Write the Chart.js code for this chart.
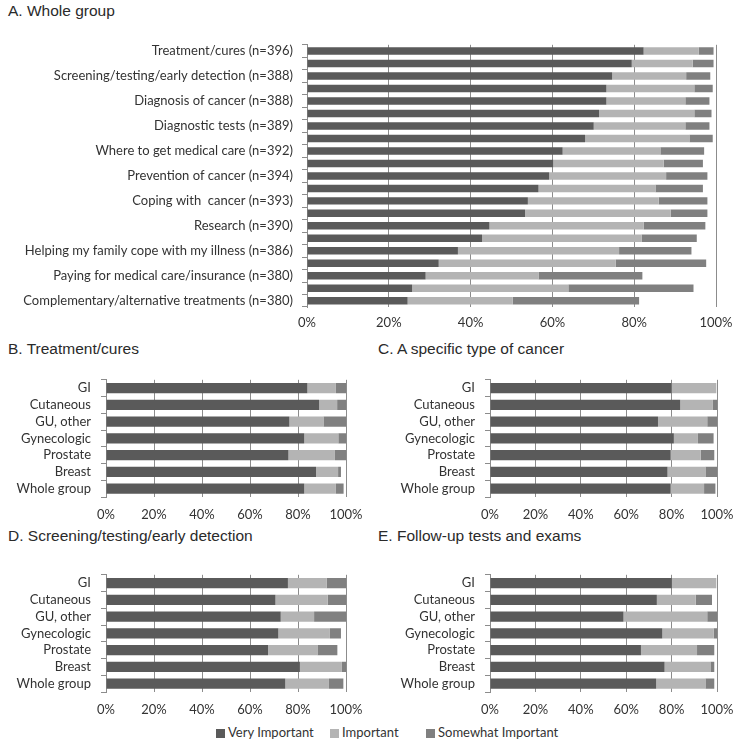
<!DOCTYPE html>
<html>
<head>
<meta charset="utf-8">
<script src="https://cdn.jsdelivr.net/npm/chart.js@4"></script>
<style>
    body { margin: 0; background: #fff; width: 746px; height: 746px; position: relative; overflow: hidden; }
    .panel-title { position: absolute; font-family: 'Liberation Sans', Arial, sans-serif; font-size: 15.5px; color: #2a2a2a; white-space: nowrap; }
    .box { position: absolute; }
    #legend { position: absolute; top: 724px; left: 0; width: 746px; font-family: Lato, sans-serif; font-size: 13px; color: #333; }
    #legend span.item { position: absolute; white-space: nowrap; }
    #legend i { display: inline-block; width: 9px; height: 9px; margin-right: 3px; vertical-align: -1px; }
</style>
</head>
<body>
<div class="panel-title" style="left:8px;top:2px">A. Whole group</div>
<div class="panel-title" style="left:8px;top:340px">B. Treatment/cures</div>
<div class="panel-title" style="left:378px;top:340px">C. A specific type of cancer</div>
<div class="panel-title" style="left:8px;top:527px">D. Screening/testing/early detection</div>
<div class="panel-title" style="left:378px;top:527px">E. Follow-up tests and exams</div>

<div class="box" style="left:0;top:28px;width:746px;height:307px"><canvas id="chartA"></canvas></div>
<div class="box" style="left:0;top:362px;width:373px;height:163px"><canvas id="chartB"></canvas></div>
<div class="box" style="left:373px;top:362px;width:373px;height:163px"><canvas id="chartC"></canvas></div>
<div class="box" style="left:0;top:557px;width:373px;height:163px"><canvas id="chartD"></canvas></div>
<div class="box" style="left:373px;top:557px;width:373px;height:163px"><canvas id="chartE"></canvas></div>
<div id="legend"></div>

<script>
// Response levels (percent of respondents)
const levelNames = ['Very Important', 'Important', 'Somewhat Important'];
const levelColors = ['#5a5a5a', '#b4b4b4', '#808080'];
const pctTicks = [0, 20, 40, 60, 80, 100];

// A. Whole group - 21 bars, every other one labelled
const topicsA = [
    'Treatment/cures (n=396)', '',
    'Screening/testing/early detection (n=388)', '',
    'Diagnosis of cancer (n=388)', '',
    'Diagnostic tests (n=389)', '',
    'Where to get medical care (n=392)', '',
    'Prevention of cancer (n=394)', '',
    'Coping with  cancer (n=393)', '',
    'Research (n=390)', '',
    'Helping my family cope with my illness (n=386)', '',
    'Paying for medical care/insurance (n=380)', '',
    'Complementary/alternative treatments (n=380)'
];
const veryA = [82.3, 79.4, 74.6, 73.2, 73.2, 71.4, 70.1, 68.0, 62.5, 60.2, 59.2, 56.6, 54.0, 53.3, 44.6, 42.8, 36.9, 32.2, 29.0, 25.7, 24.6];
const importantA = [13.5, 14.9, 18.1, 21.5, 19.3, 23.3, 22.4, 25.5, 23.9, 27.0, 28.6, 28.6, 32.0, 35.6, 37.7, 39.0, 39.4, 43.3, 27.6, 38.2, 25.7];
const somewhatA = [3.6, 5.1, 5.9, 4.5, 5.9, 4.2, 5.9, 5.7, 10.7, 9.6, 10.1, 11.6, 11.9, 9.0, 15.1, 13.5, 17.7, 22.1, 25.4, 30.6, 30.9];

// Cancer type groups used in panels B-E
const cancerTypes = ['GI', 'Cutaneous', 'GU, other', 'Gynecologic', 'Prostate', 'Breast', 'Whole group'];

// B. Treatment/cures
const veryB = [83.9, 88.8, 76.4, 82.6, 76.0, 87.5, 82.6];
const importantB = [11.9, 7.5, 14.2, 14.2, 19.4, 9.2, 13.2];
const somewhatB = [4.2, 3.7, 9.4, 3.2, 4.6, 1.2, 3.2];

// C. A specific type of cancer
const veryC = [80.0, 83.8, 74.0, 81.0, 79.6, 78.2, 79.6];
const importantC = [19.7, 14.4, 21.7, 10.6, 13.2, 16.7, 14.7];
const somewhatC = [0, 1.8, 4.3, 6.9, 6.0, 5.1, 5.0];

// D. Screening/testing/early detection
const veryD = [75.8, 70.6, 72.8, 71.8, 67.5, 80.8, 74.7];
const importantD = [16.1, 21.8, 13.9, 21.5, 20.6, 17.5, 18.2];
const somewhatD = [8.1, 7.6, 13.3, 4.6, 8.3, 1.7, 6.0];

// E. Follow-up tests and exams
const veryE = [80.1, 73.5, 58.8, 75.9, 66.5, 76.9, 73.2];
const importantE = [19.6, 17.1, 36.9, 22.6, 24.7, 20.2, 21.7];
const somewhatE = [0, 7.2, 4.3, 1.5, 7.6, 1.7, 3.9];

const labelFont = { family: 'Lato, sans-serif', size: 13 };
const labelColor = '#333';
const gridColor = '#8c8c8c';

function makeChart(id, labels, series, opts) {
    const ctx = document.getElementById(id).getContext('2d');
    return new Chart(ctx, {
        type: 'bar',
        data: {
            labels: labels,
            datasets: series.map((vals, i) => ({
                label: levelNames[i],
                data: vals,
                backgroundColor: levelColors[i],
                borderWidth: 0,
                barPercentage: opts.barPct,
                categoryPercentage: 1
            }))
        },
        options: {
            indexAxis: 'y',
            responsive: true,
            maintainAspectRatio: false,
            animation: false,
            layout: { padding: opts.padding },
            plugins: {
                legend: { display: false },
                tooltip: { enabled: false }
            },
            scales: {
                x: {
                    stacked: true,
                    min: 0,
                    max: 100,
                    afterBuildTicks: (scale) => { scale.ticks = pctTicks.map(v => ({ value: v })); },
                    afterFit: (scale) => { scale.height = 28; },
                    grid: { color: gridColor, drawTicks: false, lineWidth: 1 },
                    border: { display: false },
                    ticks: {
                        font: labelFont,
                        color: labelColor,
                        padding: opts.xPad,
                        maxRotation: 0,
                        callback: (v) => v + '%'
                    }
                },
                y: {
                    stacked: true,
                    afterFit: (scale) => { scale.width = opts.yWidth; },
                    grid: { drawOnChartArea: false, drawTicks: true, tickLength: 5, color: gridColor, offset: true },
                    border: { display: true, color: gridColor },
                    ticks: {
                        autoSkip: false,
                        font: labelFont,
                        color: labelColor,
                        padding: opts.yPad
                    }
                }
            }
        }
    });
}

makeChart('chartA', topicsA, [veryA, importantA, somewhatA],
    { barPct: 0.6, padding: { top: 6, right: 30, bottom: 0, left: 0 }, yWidth: 307, xPad: 8, yPad: 9 });
makeChart('chartB', cancerTypes, [veryB, importantB, somewhatB],
    { barPct: 0.62, padding: { top: 10, right: 27, bottom: 0, left: 0 }, yWidth: 106, xPad: 10, yPad: 10 });
makeChart('chartC', cancerTypes, [veryC, importantC, somewhatC],
    { barPct: 0.62, padding: { top: 10, right: 29, bottom: 0, left: 0 }, yWidth: 117, xPad: 10, yPad: 10 });
makeChart('chartD', cancerTypes, [veryD, importantD, somewhatD],
    { barPct: 0.62, padding: { top: 10, right: 27, bottom: 0, left: 0 }, yWidth: 106, xPad: 10, yPad: 10 });
makeChart('chartE', cancerTypes, [veryE, importantE, somewhatE],
    { barPct: 0.62, padding: { top: 10, right: 29, bottom: 0, left: 0 }, yWidth: 117, xPad: 10, yPad: 10 });

// Shared legend under the panels
const legendEl = document.getElementById('legend');
const legendX = [216, 330, 426];
levelNames.forEach((name, i) => {
    const item = document.createElement('span');
    item.className = 'item';
    item.style.left = legendX[i] + 'px';
    item.innerHTML = `<i style="background:${levelColors[i]}"></i>${name}`;
    legendEl.appendChild(item);
});
</script>
</body>
</html>
